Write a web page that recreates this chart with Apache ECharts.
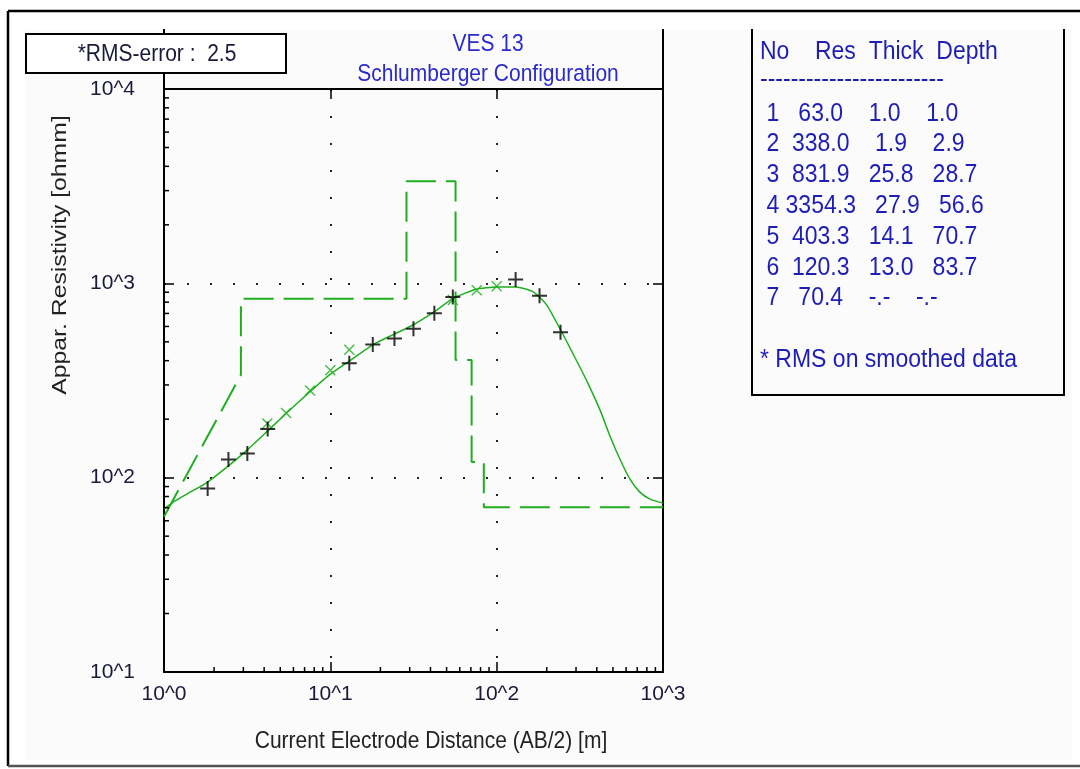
<!DOCTYPE html>
<html>
<head>
<meta charset="utf-8">
<title>VES 13</title>
<script src="https://cdn.jsdelivr.net/npm/echarts@6/dist/echarts.min.js"></script>
<style>
  html, body { margin: 0; padding: 0; background: #fff; }
  #chart { width: 1080px; height: 769px; }
</style>
</head>
<body>
<div id="chart"></div>
<script>
// layer model (table on the right)
const layerRes = [63.0, 338.0, 831.9, 3354.3, 403.3, 120.3, 70.4];
const layerThick = [1.0, 1.9, 25.8, 27.9, 14.1, 13.0];
const layerDepth = [1.0, 2.9, 28.7, 56.6, 70.7, 83.7];

// field data (black +)
const fieldAB = [1.83, 2.44, 3.17, 4.2, 13.0, 18.0, 24.3, 31.6, 42.2, 54.5, 130, 181, 242];
const fieldRho = [88, 124, 133, 178, 388, 484, 520, 583, 702, 851, 1046, 863, 560];

// smoothed data (green x)
const smoothAB = [4.18, 5.42, 7.55, 10.0, 13.0, 54.5, 75.9, 100];
const smoothRho = [190, 215, 281, 357, 455, 820, 921, 966];

// model response curve
const modelAB = [1.0, 1.14, 1.37, 1.81, 2.44, 3.17, 4.2, 5.42, 7.55, 10, 13, 18.1, 23.9, 31.6, 42.2,
  54.9, 75.2, 100, 130, 166, 200, 242, 289, 348, 419, 481, 552, 634, 728, 836, 1000];
const modelRho = [69, 75, 82.3, 94.4, 115, 139, 174, 214, 277, 341, 398, 484, 545, 612, 715,
  836, 933, 958, 958, 904, 773, 577, 431, 315, 222, 163, 124, 98, 84, 77.6, 74];

// axes
const xDecades = [1, 10, 100];
const yDecades = [10, 100, 1000];
const minorMantissa = [2, 3, 4, 5, 6, 7, 8, 9];
const rmsError = '2.5';

const GREEN = '#1fae1f';
const FONT = 'Liberation Sans, Arial, sans-serif';
const LABEL = '#1a1a3a';
const BLUE = '#1e1eb4';
const STRETCH = 1.12; // the original text looks a little tall

const pad = (s, n) => String(s).padStart(n, ' ');

// step plot of the layer model
const stepData = [[layerDepth[0], layerRes[0]], [layerDepth[1], layerRes[1]]];
for (let i = 1; i < layerDepth.length; i++) {
  stepData.push([layerDepth[i], layerRes[i + 1]]);
  if (i + 1 < layerDepth.length) stepData.push([layerDepth[i + 1], layerRes[i + 1]]);
}
stepData.push([1000, layerRes[layerRes.length - 1]]);

const minorX = [];
xDecades.forEach(d => minorMantissa.forEach(m => minorX.push(['x', m * d])));
const minorY = [];
yDecades.forEach(d => minorMantissa.forEach(m => minorY.push(['y', m * d])));

const tableRows = layerRes.map((r, i) => ' ' + (i + 1) + pad(r.toFixed(1), 7) +
  pad(i < layerThick.length ? layerThick[i].toFixed(1) : '-.-', 7) +
  pad(i < layerDepth.length ? layerDepth[i].toFixed(1) : '-.-', 7));

const expLabel = v => '10^' + Math.round(Math.log10(v));

// text helper, stretched a bit in height
const txt = (text, x, y, opts) => Object.assign({
  type: 'text', x: x, y: y, scaleY: STRETCH,
  style: Object.assign({ text: text, x: 0, y: 0, verticalAlign: 'middle', font: '21px ' + FONT, fill: LABEL }, opts && opts.style)
}, opts && opts.el);

const chart = echarts.init(document.getElementById('chart'));

const option = {
  animation: false,
  backgroundColor: '#ffffff',
  grid: { left: 164, right: 417, top: 89, bottom: 97, show: true, backgroundColor: '#fbfbfb', borderWidth: 0 },
  xAxis: [
    {
      type: 'log', min: 1, max: 1000, logBase: 10, position: 'bottom',
      axisLine: { lineStyle: { color: '#000', width: 2 } },
      axisTick: { inside: true, length: 10, lineStyle: { color: '#000', width: 1.5 } },
      axisLabel: { formatter: expLabel, color: LABEL, fontSize: 21, fontFamily: FONT, margin: 12 },
      splitLine: { show: true, showMinLine: false, showMaxLine: false, lineStyle: { color: '#222', width: 2, type: [2, 25] } }
    },
    {
      type: 'log', min: 1, max: 1000, logBase: 10, position: 'top',
      axisLine: { lineStyle: { color: '#000', width: 2 } },
      axisTick: { inside: true, length: 10, lineStyle: { color: '#000', width: 1.5 } },
      axisLabel: { show: false },
      splitLine: { show: false }
    }
  ],
  yAxis: [
    {
      type: 'log', min: 10, max: 10000, logBase: 10, position: 'left',
      axisLine: { show: true, lineStyle: { color: '#000', width: 2 } },
      axisTick: { show: true, inside: true, length: 10, lineStyle: { color: '#000', width: 1.5 } },
      axisLabel: { formatter: expLabel, color: LABEL, fontSize: 21, fontFamily: FONT, margin: 29, padding: [6, 0, 0, 0] },
      splitLine: { show: true, showMinLine: false, showMaxLine: false, lineStyle: { color: '#222', width: 2, type: [2, 21] } }
    },
    {
      type: 'log', min: 10, max: 10000, logBase: 10, position: 'right',
      axisLine: { show: true, lineStyle: { color: '#000', width: 2 } },
      axisTick: { show: true, inside: true, length: 10, lineStyle: { color: '#000', width: 1.5 } },
      axisLabel: { show: false },
      splitLine: { show: false }
    }
  ],
  series: [
    {
      name: 'Layer model', type: 'line', data: stepData, symbol: 'none',
      lineStyle: { color: GREEN, width: 2, type: [30, 10] }, z: 2
    },
    {
      name: 'Model curve', type: 'line', smooth: 0.2, symbol: 'none',
      data: modelAB.map((x, i) => [x, modelRho[i]]),
      lineStyle: { color: GREEN, width: 1.5 }, z: 3
    },
    {
      name: 'Smoothed', type: 'scatter', symbol: 'path://M0,0L10,10M10,0L0,10', symbolSize: 10,
      data: smoothAB.map((x, i) => [x, smoothRho[i]]),
      itemStyle: { color: 'transparent', borderColor: GREEN, borderWidth: 1.5 }, z: 4
    },
    {
      name: 'Field', type: 'scatter', symbol: 'path://M0,6L12,6M6,0L6,12', symbolSize: 15,
      data: fieldAB.map((x, i) => [x, fieldRho[i]]),
      itemStyle: { color: 'transparent', borderColor: '#000', borderWidth: 2 }, z: 5
    },
    {
      name: 'Minor ticks', type: 'custom', silent: true, clip: false,
      data: minorX.concat(minorY).map(d => d[0] === 'x' ? [d[1], 10, 0] : [1, d[1], 1]),
      encode: { x: 0, y: 1 },
      renderItem: (params, api) => {
        const p = api.coord([api.value(0), api.value(1)]);
        const vertical = api.value(2) === 0;
        return {
          type: 'line',
          shape: vertical ? { x1: p[0], y1: p[1], x2: p[0], y2: p[1] - 5 } : { x1: p[0], y1: p[1], x2: p[0] + 5, y2: p[1] },
          style: { stroke: '#000', lineWidth: 1.5 }
        };
      },
      z: 6
    }
  ],
  graphic: [
    // outer frame
    { type: 'rect', z: -10, shape: { x: 25, y: 29, width: 1047, height: 731 }, style: { fill: '#fbfbfb' } },
    { type: 'line', shape: { x1: 8, y1: 11, x2: 1080, y2: 11 }, style: { stroke: '#000', lineWidth: 2.5 } },
    { type: 'line', shape: { x1: 8, y1: 11, x2: 8, y2: 766 }, style: { stroke: '#000', lineWidth: 2.5 } },
    { type: 'line', shape: { x1: 8, y1: 766, x2: 1080, y2: 766 }, style: { stroke: '#555', lineWidth: 2.5 } },
    // axis line extensions above the plot
    { type: 'line', shape: { x1: 164, y1: 29, x2: 164, y2: 89 }, style: { stroke: '#000', lineWidth: 2 } },
    { type: 'line', shape: { x1: 663, y1: 29, x2: 663, y2: 89 }, style: { stroke: '#000', lineWidth: 2 } },
    // title
    txt('VES 13', 488, 45, { style: { align: 'center', fill: '#2b2bcc' } }),
    txt('Schlumberger Configuration', 488, 75, { style: { align: 'center', fill: '#2b2bcc' } }),
    // RMS box
    { type: 'rect', z: 100, shape: { x: 26, y: 34, width: 260, height: 39 }, style: { fill: '#fff', stroke: '#000', lineWidth: 2 } },
    txt('*RMS-error :  ' + rmsError, 157, 55, { style: { align: 'center' }, el: { z: 101 } }),
    // axis names
    txt('Appar. Resistivity [ohmm]', 60, 255, { style: { align: 'center', fill: '#222' }, el: { rotation: Math.PI / 2, scaleY: 1, scaleX: 1.18 } }),
    txt('Current Electrode Distance (AB/2) [m]', 431, 742, { style: { align: 'center', fill: '#222' } }),
    // layer table
    { type: 'polyline', shape: { points: [[752, 29], [752, 395], [1064, 395], [1064, 29]] }, style: { stroke: '#000', lineWidth: 2, fill: null } },
    txt('No    Res  Thick  Depth', 760, 52, { style: { fill: BLUE, font: '23px ' + FONT } }),
    txt('-'.repeat(24), 760, 80, { style: { fill: BLUE, font: '23px ' + FONT } }),
    txt(tableRows.join('\n'), 760, 98, { style: { fill: BLUE, font: '23px ' + FONT, lineHeight: 27.5, verticalAlign: 'top' } }),
    txt('* RMS on smoothed data', 760, 360, { style: { fill: BLUE, font: '23px ' + FONT } })
  ]
};

chart.setOption(option);
</script>
</body>
</html>
